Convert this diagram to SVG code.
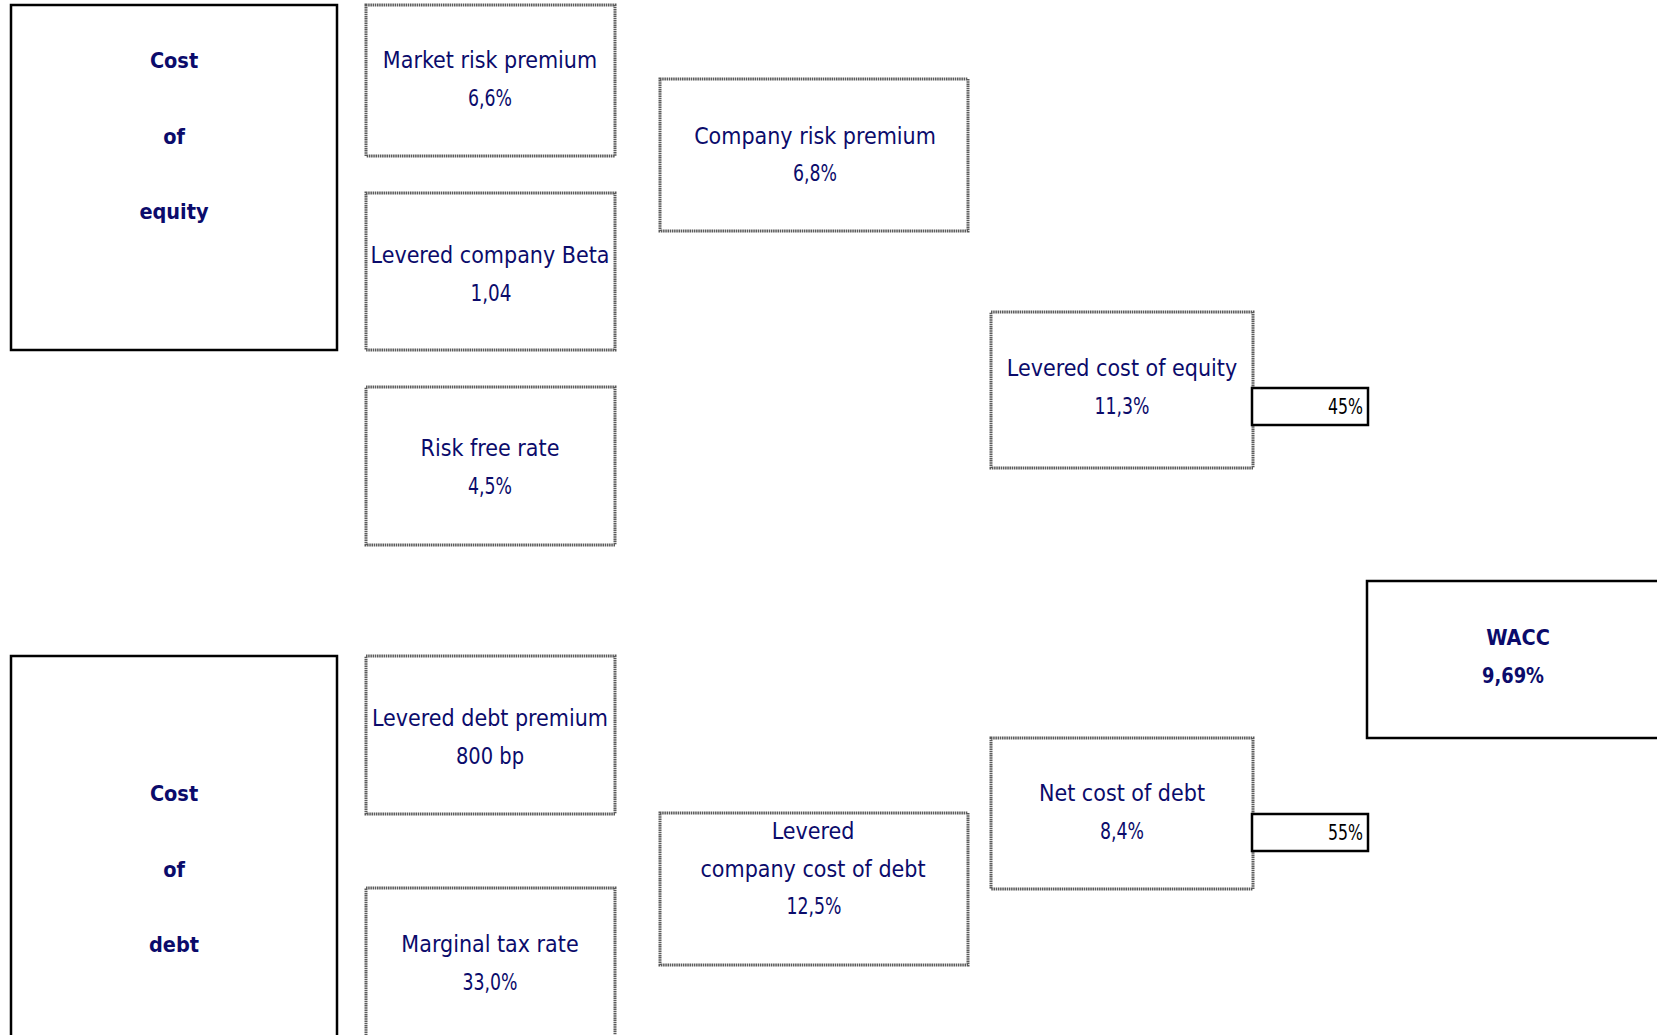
<svg xmlns="http://www.w3.org/2000/svg" width="1657" height="1035" viewBox="0 0 1657 1035">
<style>
.bg{fill:#ffffff}
.solid{fill:#ffffff;stroke:#000000;stroke-width:2.5}
.dot{fill:#ffffff;stroke:#5a5a5a;stroke-width:3;stroke-dasharray:1.5 0.7}
text{font-family:"DejaVu Sans Condensed","DejaVu Sans",sans-serif;font-size:23px;fill:#0b0b6b;text-anchor:middle}
.b{font-weight:bold;font-size:21.5px}
.pct{fill:#000000;text-anchor:end;font-size:22px}
</style>
<rect class="bg" x="0" y="0" width="1657" height="1035"/>
<g id="connectors"></g>
<g id="cost-of-equity">
<rect class="solid" x="11" y="5" width="326" height="345"/>
<text class="b" x="174" y="68">Cost</text>
<text class="b" x="174" y="144">of</text>
<text class="b" x="174" y="219">equity</text>
</g>
<g id="market-risk-premium">
<rect class="dot" x="366" y="5" width="249" height="151"/>
<text x="490" y="68">Market risk premium</text>
<text x="490" y="106" textLength="44" lengthAdjust="spacingAndGlyphs">6,6%</text>
</g>
<g id="levered-company-beta">
<rect class="dot" x="366" y="193" width="249" height="157"/>
<text x="490" y="263">Levered company Beta</text>
<text x="491" y="301" textLength="41" lengthAdjust="spacingAndGlyphs">1,04</text>
</g>
<g id="risk-free-rate">
<rect class="dot" x="366" y="387" width="249" height="158"/>
<text x="490" y="456">Risk free rate</text>
<text x="490" y="494" textLength="44" lengthAdjust="spacingAndGlyphs">4,5%</text>
</g>
<g id="company-risk-premium">
<rect class="dot" x="660" y="79" width="308" height="152"/>
<text x="815" y="144">Company risk premium</text>
<text x="815" y="181" textLength="44" lengthAdjust="spacingAndGlyphs">6,8%</text>
</g>
<g id="levered-cost-of-equity">
<rect class="dot" x="991" y="312" width="262" height="156"/>
<text x="1122" y="376">Levered cost of equity</text>
<text x="1122" y="414" textLength="55" lengthAdjust="spacingAndGlyphs">11,3%</text>
</g>
<g id="weight-equity">
<rect class="solid" x="1252" y="388" width="116" height="37"/>
<text class="pct" x="1363" y="414" textLength="35" lengthAdjust="spacingAndGlyphs">45%</text>
</g>
<g id="wacc">
<rect class="solid" x="1367" y="581" width="300" height="157"/>
<text class="b" x="1518" y="645">WACC</text>
<text class="b" x="1513" y="683" textLength="62" lengthAdjust="spacingAndGlyphs">9,69%</text>
</g>
<g id="cost-of-debt">
<rect class="solid" x="11" y="656" width="326" height="400"/>
<text class="b" x="174" y="801">Cost</text>
<text class="b" x="174" y="877">of</text>
<text class="b" x="174" y="952">debt</text>
</g>
<g id="levered-debt-premium">
<rect class="dot" x="366" y="656" width="249" height="158"/>
<text x="490" y="726">Levered debt premium</text>
<text x="490" y="764" textLength="68" lengthAdjust="spacingAndGlyphs">800 bp</text>
</g>
<g id="marginal-tax-rate">
<rect class="dot" x="366" y="888" width="249" height="170"/>
<text x="490" y="952">Marginal tax rate</text>
<text x="490" y="990" textLength="55" lengthAdjust="spacingAndGlyphs">33,0%</text>
</g>
<g id="levered-company-cost-of-debt">
<rect class="dot" x="660" y="813" width="308" height="152"/>
<text x="813" y="839">Levered</text>
<text x="813" y="877">company cost of debt</text>
<text x="814" y="914" textLength="55" lengthAdjust="spacingAndGlyphs">12,5%</text>
</g>
<g id="net-cost-of-debt">
<rect class="dot" x="991" y="738" width="262" height="151"/>
<text x="1122" y="801">Net cost of debt</text>
<text x="1122" y="839" textLength="44" lengthAdjust="spacingAndGlyphs">8,4%</text>
</g>
<g id="weight-debt">
<rect class="solid" x="1252" y="814" width="116" height="37"/>
<text class="pct" x="1363" y="840" textLength="35" lengthAdjust="spacingAndGlyphs">55%</text>
</g>
</svg>
